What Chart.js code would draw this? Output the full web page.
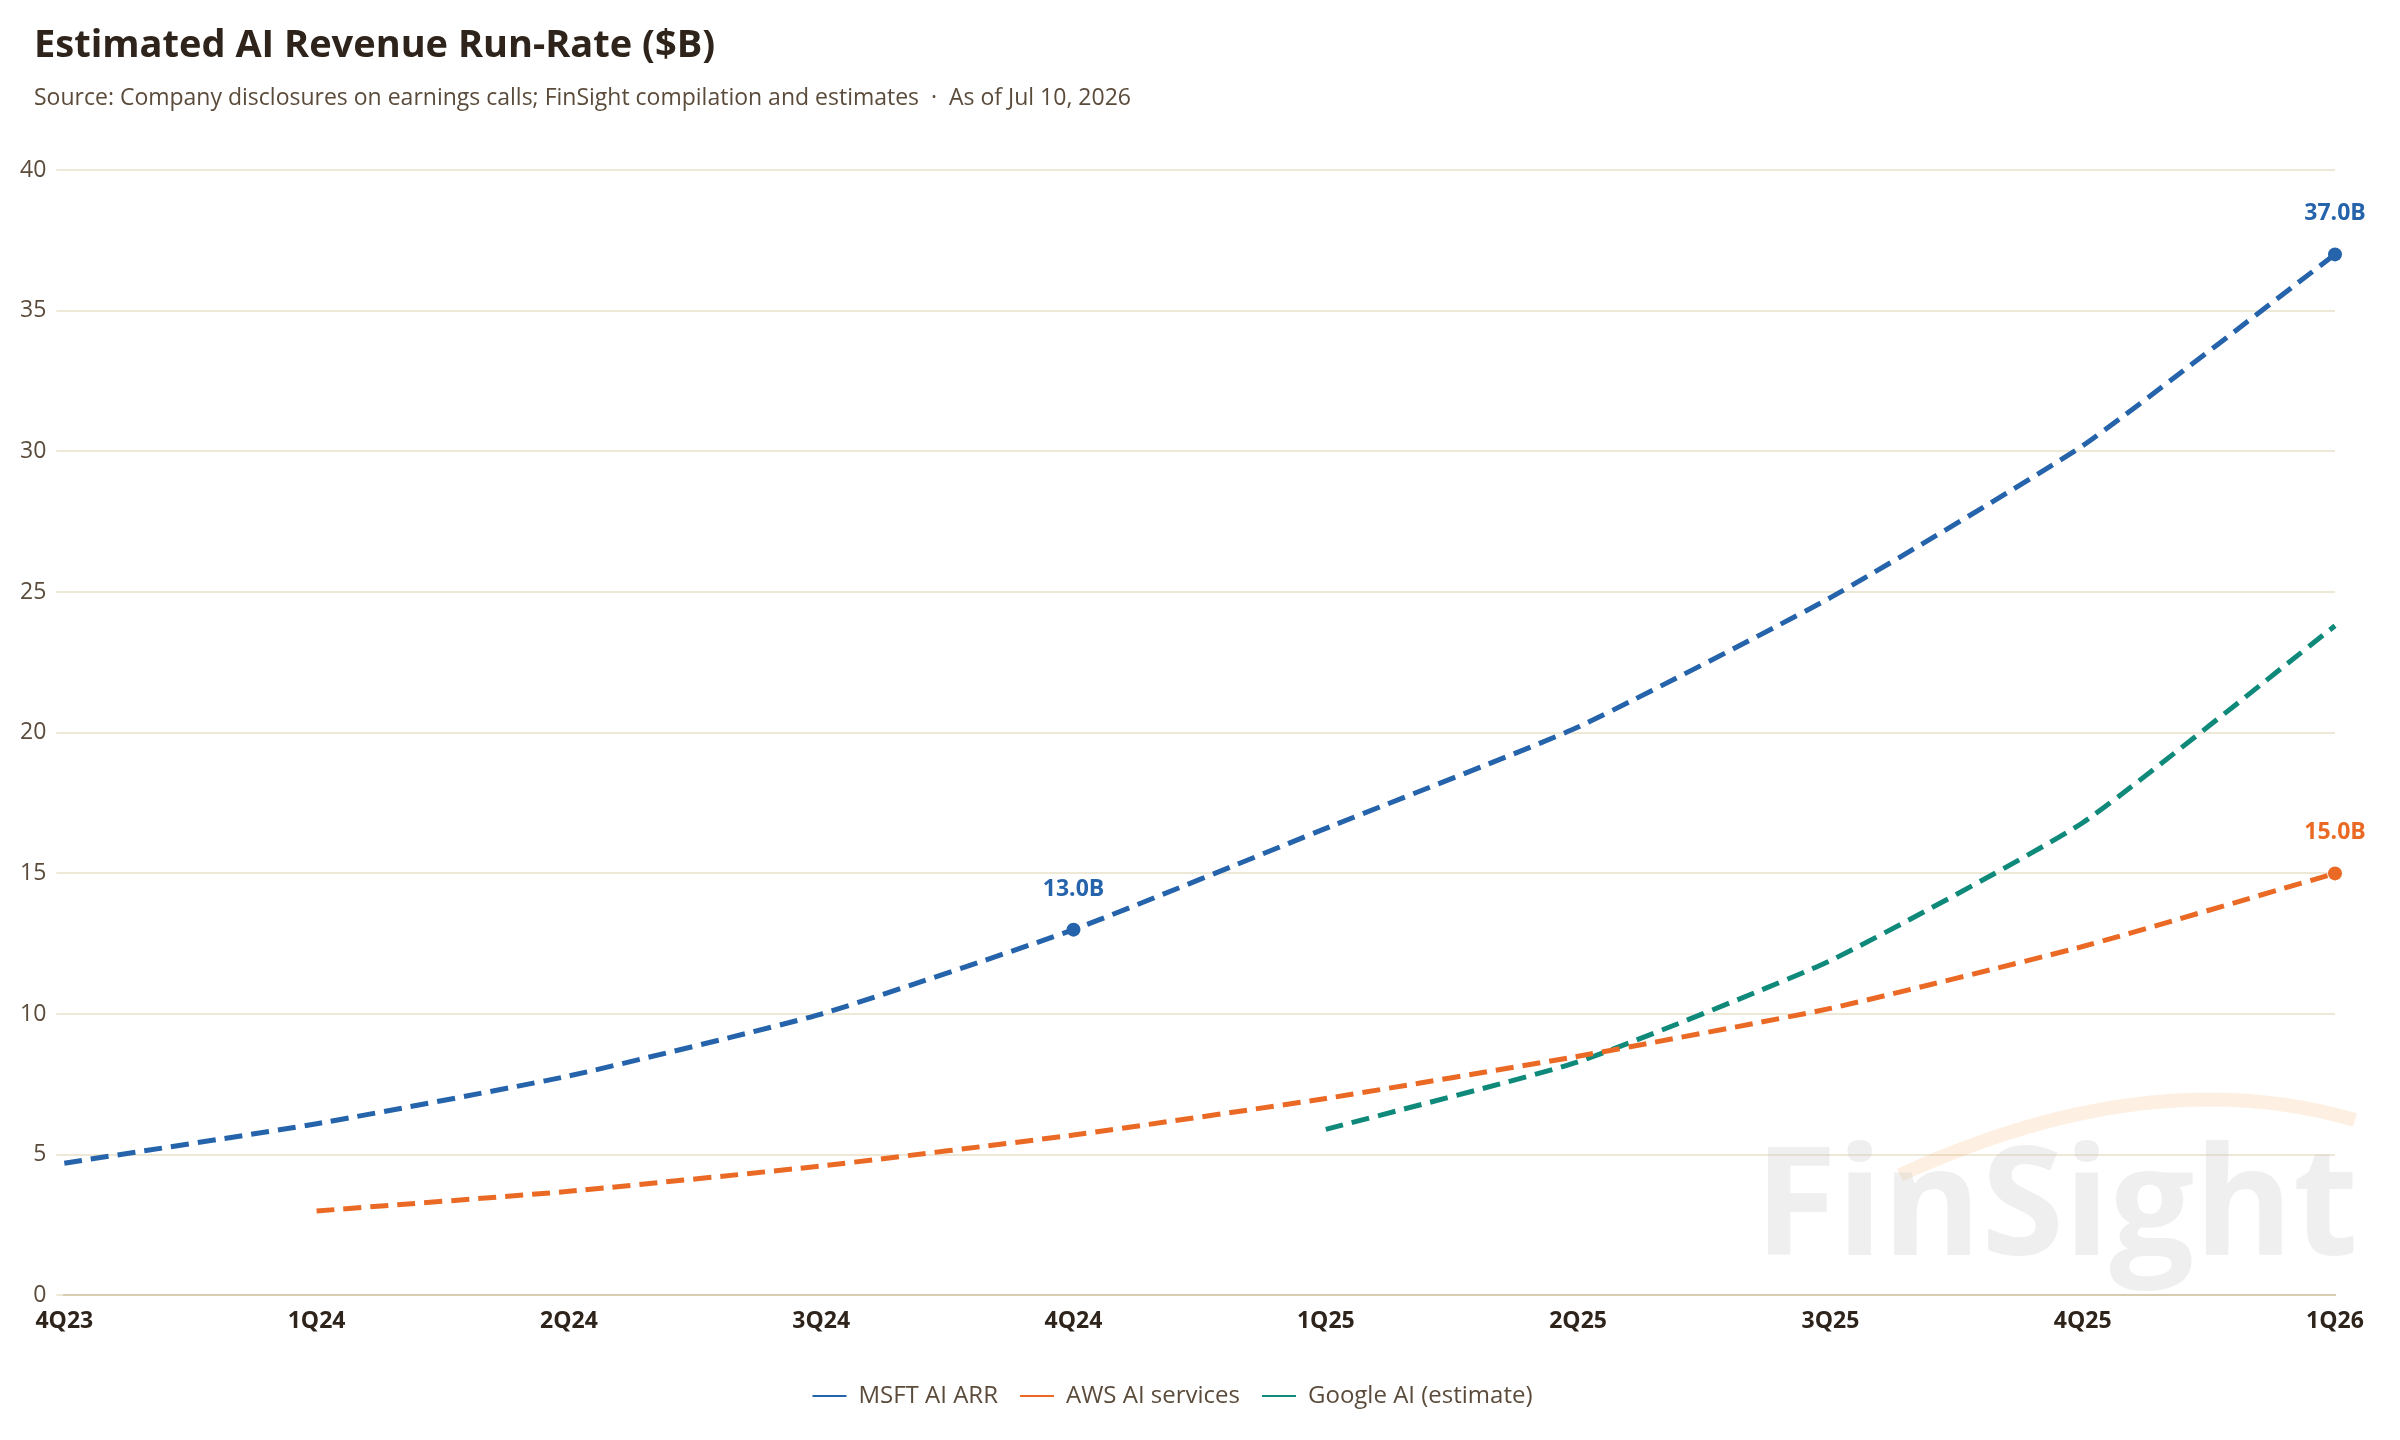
<!DOCTYPE html>
<html><head><meta charset="utf-8">
<script src="https://cdn.jsdelivr.net/npm/chart.js@4"></script>
<style>html,body{margin:0;padding:0;background:#fff}#w{width:2400px;height:1440px}</style>
</head><body><div id="w"><canvas id="c"></canvas></div>
<script>
const categories = ["4Q23","1Q24","2Q24","3Q24","4Q24","1Q25","2Q25","3Q25","4Q25","1Q26"];
const msft = [4.7, 6.1, 7.8, 10.0, 13.0, 16.6, 20.2, 24.8, 30.2, 37.0];
const aws = [null, 3.0, 3.7, 4.6, 5.7, 7.0, 8.5, 10.2, 12.4, 15.0];
const google = [null, null, null, null, null, 5.9, 8.3, 11.9, 16.8, 23.8];
const yTicks = [0,5,10,15,20,25,30,35,40];
const labelled = [{ds:0, i:4}, {ds:0, i:9}, {ds:1, i:9}];
const FONT = '"Open Sans", "Noto Sans", sans-serif';
const TXT = '#5b4b3b';

const deco = {
  id:'deco',
  beforeDatasetsDraw(chart){
    const ctx = chart.ctx;
    ctx.save();
    ctx.strokeStyle = 'rgba(245,180,110,0.2)'; ctx.lineWidth = 14;
    ctx.beginPath(); ctx.moveTo(1900,1175); ctx.quadraticCurveTo(2150,1060,2355,1120); ctx.stroke();
    ctx.font = 'bold 150px ' + FONT; ctx.fillStyle = 'rgba(190,190,190,0.25)';
    ctx.textAlign = 'right'; ctx.textBaseline = 'alphabetic';
    ctx.fillText('FinSight', 2358, 1255);
    ctx.restore();
  },
  afterDraw(chart){
    const ctx = chart.ctx;
    ctx.save();
    ctx.textAlign='left'; ctx.textBaseline='alphabetic';
    ctx.fillStyle='#2e241b'; ctx.font='bold 38px ' + FONT;
    ctx.fillText('Estimated AI Revenue Run-Rate ($B)', 34, 57);
    ctx.fillStyle=TXT; ctx.font='23px ' + FONT;
    ctx.fillText('Source: Company disclosures on earnings calls; FinSight compilation and estimates  ·  As of Jul 10, 2026', 34, 105);
    ctx.textAlign='center'; ctx.font='bold 23px ' + FONT;
    labelled.forEach(l=>{
      const p = chart.getDatasetMeta(l.ds).data[l.i];
      const ds = chart.data.datasets[l.ds];
      ctx.fillStyle = ds.borderColor;
      ctx.fillText(ds.data[l.i].toFixed(1)+'B', p.x, p.y-34);
    });
    ctx.restore();
  }
};

function pr(arr, idxs){ return arr.map((v,i)=> idxs.includes(i)?7:0); }

new Chart(document.getElementById('c'), {
  type:'line',
  data:{labels:categories, datasets:[
    {label:'MSFT AI ARR', data:msft, borderColor:'#2563ab', backgroundColor:'#2563ab', borderWidth:5, borderDash:[18,9], tension:0.15, pointRadius:pr(msft,[4,9]), pointBorderWidth:0},
    {label:'AWS AI services', data:aws, borderColor:'#ea6a25', backgroundColor:'#ea6a25', borderWidth:5, borderDash:[18,9], tension:0.15, pointRadius:pr(aws,[9]), pointBorderWidth:0},
    {label:'Google AI (estimate)', data:google, borderColor:'#0f8a7a', backgroundColor:'#0f8a7a', borderWidth:5, borderDash:[18,9], tension:0.15, pointRadius:0}
  ]},
  options:{
    responsive:true, maintainAspectRatio:false, animation:false,
    layout:{padding:{top:170, left:10, right:65, bottom:22}},
    plugins:{
      legend:{position:'bottom', labels:{font:{family:FONT,size:24}, color:TXT, boxWidth:34, boxHeight:2, padding:22,
        generateLabels(chart){ return chart.data.datasets.map((d,i)=>({text:d.label, fillStyle:d.borderColor, strokeStyle:d.borderColor, lineWidth:0, fontColor:TXT, datasetIndex:i})); }}},
      tooltip:{enabled:false}
    },
    scales:{
      x:{offset:false, grid:{display:false}, border:{color:'#d8cdb0', width:2},
         afterFit(s){ s.height += 23; },
         ticks:{font:{family:FONT,size:23,weight:'bold'}, color:'#2e241b', padding:4, maxRotation:0}},
      y:{min:0, max:40, afterBuildTicks(s){ s.ticks = yTicks.map(v=>({value:v})); },
         grid:{color:'#eee8d6', lineWidth:2}, border:{display:false},
         ticks:{font:{family:FONT,size:23}, color:TXT, padding:10}}
    }
  },
  plugins:[deco]
});
</script></body></html>
